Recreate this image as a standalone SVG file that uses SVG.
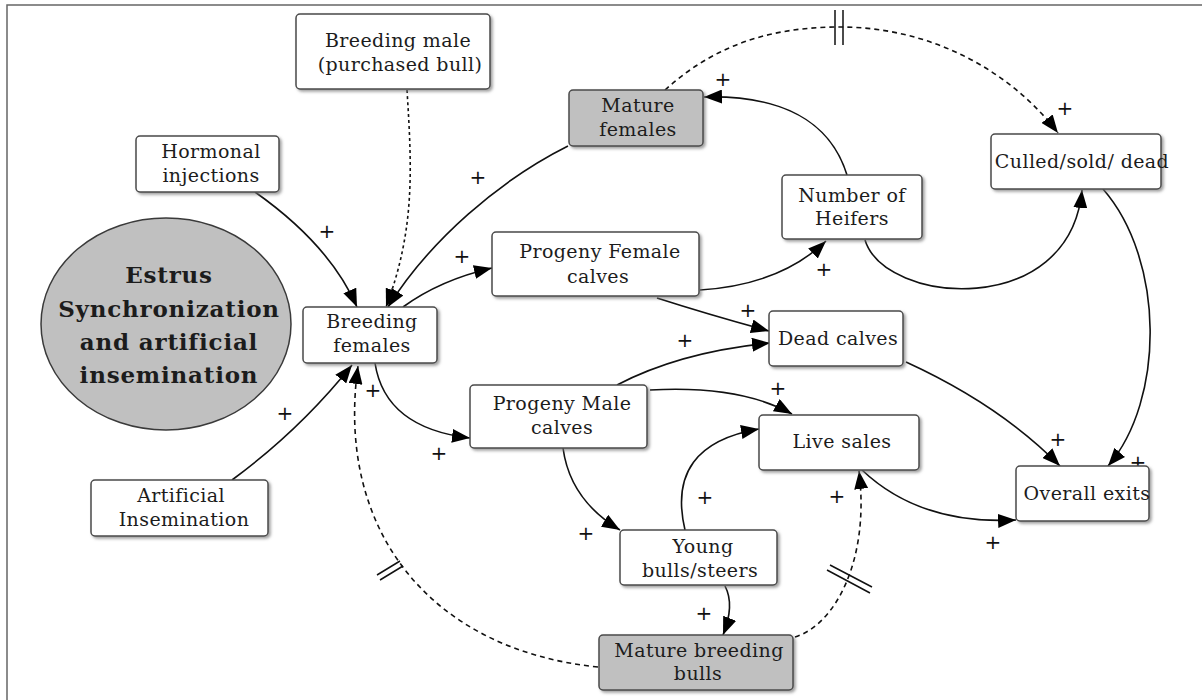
<svg xmlns="http://www.w3.org/2000/svg" width="1202" height="700" viewBox="0 0 1202 700">
  <defs>
    <marker id="arrow" markerUnits="userSpaceOnUse" markerWidth="19" markerHeight="14" refX="18" refY="7" orient="auto">
      <path d="M0,0 L18,7 L0,14 Z" fill="#000"/>
    </marker>
    <filter id="shadow" x="-10%" y="-10%" width="130%" height="140%">
      <feDropShadow dx="2" dy="2" stdDeviation="1.5" flood-color="#777" flood-opacity="0.7"/>
    </filter>
  </defs>
  <style>
    .box { fill: #ffffff; stroke: #4a4a4a; stroke-width: 1.5; filter: url(#shadow); }
    .stock { fill: #c0c0c0; stroke: #4a4a4a; stroke-width: 1.5; filter: url(#shadow); }
    .lbl { font-family: "DejaVu Serif", "Liberation Serif", serif; font-size: 19px; letter-spacing: 0.4px; fill: #1c1c1c; text-anchor: middle; }
    .title { font-family: "DejaVu Serif", "Liberation Serif", serif; font-size: 23px; font-weight: 700; letter-spacing: 0.8px; fill: #1c1c1c; text-anchor: middle; }
    .pol { font-family: "DejaVu Sans", sans-serif; font-size: 20px; fill: #111; text-anchor: middle; }
    .link { fill: none; stroke: #111; stroke-width: 1.6; marker-end: url(#arrow); }
    .delay { fill: none; stroke: #111; stroke-width: 1.6; stroke-dasharray: 5 4; marker-end: url(#arrow); }
    .dot { stroke-dasharray: 3 3; }
    .tick { fill: none; stroke: #111; stroke-width: 1.5; }
  </style>

  <rect width="1202" height="700" fill="#ffffff"/>
  <!-- outer frame -->
  <path d="M7,705 V5 H1210" fill="none" stroke="#666" stroke-width="1.5"/>

  <!-- connectors -->
  <g id="connectors">
    <path class="link" d="M255,192 Q330,245 357,307"/>
    <path class="delay dot" d="M407,90 C412,170 415,230 386,307"/>
    <path class="link" d="M568,146 C500,180 430,240 388,307"/>
    <path class="link" d="M403,307 Q440,280 492,268"/>
    <path class="link" d="M375,363 Q385,428 470,438"/>
    <path class="link" d="M232,480 Q300,430 352,365"/>
    <path class="delay" d="M598,667 C430,650 335,530 358,366"/>
    <path class="link" d="M700,290 Q780,285 826,241"/>
    <path class="link" d="M657,298 Q710,315 769,331"/>
    <path class="link" d="M617,385 Q680,352 770,343"/>
    <path class="link" d="M650,390 Q740,385 792,414"/>
    <path class="link" d="M563,448 Q570,500 620,530"/>
    <path class="link" d="M685,530 Q665,445 759,429"/>
    <path class="link" d="M725,586 Q735,605 723,635"/>
    <path class="delay" d="M795,637 C835,625 870,560 859,471"/>
    <path class="link" d="M862,470 Q920,525 1016,520"/>
    <path class="link" d="M906,362 Q1000,405 1060,466"/>
    <path class="link" d="M1103,189 C1165,260 1165,400 1108,466"/>
    <path class="link" d="M865,240 C885,305 1070,320 1082,190"/>
    <path class="link" d="M847,175 C830,120 780,95 704,97"/>
    <path class="delay" d="M665,90 C720,40 780,27 840,27 C930,27 1010,70 1058,133"/>
    <!-- delay marks -->
    <path class="tick" d="M835,10 V45 M843,10 V45"/>
    <path class="tick" d="M377,575 L400,561 M380,580 L403,566"/>
    <path class="tick" d="M827,570 L870,593 M830,565 L872,587"/>
    <!-- polarity signs -->
    <text class="pol" x="327" y="238">+</text>
    <text class="pol" x="478" y="184">+</text>
    <text class="pol" x="462" y="263">+</text>
    <text class="pol" x="373" y="397">+</text>
    <text class="pol" x="285" y="420">+</text>
    <text class="pol" x="439" y="460">+</text>
    <text class="pol" x="723" y="86">+</text>
    <text class="pol" x="1065" y="115">+</text>
    <text class="pol" x="824" y="276">+</text>
    <text class="pol" x="748" y="317">+</text>
    <text class="pol" x="685" y="347">+</text>
    <text class="pol" x="778" y="395">+</text>
    <text class="pol" x="705" y="504">+</text>
    <text class="pol" x="837" y="503">+</text>
    <text class="pol" x="586" y="540">+</text>
    <text class="pol" x="704" y="620">+</text>
    <text class="pol" x="993" y="549">+</text>
    <text class="pol" x="1058" y="446">+</text>
    <text class="pol" x="1138" y="469">+</text>
  </g>

  <!-- nodes -->
  <g id="estrus-sync">
    <ellipse cx="166" cy="324" rx="125" ry="106" fill="#c0c0c0" stroke="#3a3a3a" stroke-width="1.5"/>
    <text class="title" x="169" y="283">Estrus</text>
    <text class="title" x="169" y="317">Synchronization</text>
    <text class="title" x="169" y="350">and artificial</text>
    <text class="title" x="169" y="383">insemination</text>
  </g>
  <g id="breeding-male">
    <rect class="box" x="296" y="14" width="194" height="75" rx="4"/>
    <text class="lbl" x="398" y="47">Breeding male</text>
    <text class="lbl" x="400" y="71">(purchased bull)</text>
  </g>
  <g id="hormonal-injections">
    <rect class="box" x="136" y="136" width="143" height="56" rx="4"/>
    <text class="lbl" x="211" y="158">Hormonal</text>
    <text class="lbl" x="211" y="182">injections</text>
  </g>
  <g id="artificial-insemination">
    <rect class="box" x="91" y="480" width="177" height="56" rx="4"/>
    <text class="lbl" x="181" y="502">Artificial</text>
    <text class="lbl" x="184" y="526">Insemination</text>
  </g>
  <g id="breeding-females">
    <rect class="box" x="303" y="307" width="134" height="56" rx="4"/>
    <text class="lbl" x="372" y="328">Breeding</text>
    <text class="lbl" x="372" y="352">females</text>
  </g>
  <g id="mature-females">
    <rect class="stock" x="569" y="90" width="134" height="56" rx="4"/>
    <text class="lbl" x="638" y="112">Mature</text>
    <text class="lbl" x="638" y="136">females</text>
  </g>
  <g id="progeny-female-calves">
    <rect class="box" x="492" y="232" width="207" height="64" rx="4"/>
    <text class="lbl" x="600" y="258">Progeny Female</text>
    <text class="lbl" x="598" y="283">calves</text>
  </g>
  <g id="number-of-heifers">
    <rect class="box" x="782" y="175" width="140" height="64" rx="4"/>
    <text class="lbl" x="852" y="202">Number of</text>
    <text class="lbl" x="852" y="225">Heifers</text>
  </g>
  <g id="culled-sold-dead">
    <rect class="box" x="991" y="134" width="170" height="55" rx="4"/>
    <text class="lbl" x="1082" y="168">Culled/sold/ dead</text>
  </g>
  <g id="dead-calves">
    <rect class="box" x="769" y="311" width="134" height="55" rx="4"/>
    <text class="lbl" x="838" y="345">Dead calves</text>
  </g>
  <g id="progeny-male-calves">
    <rect class="box" x="470" y="385" width="177" height="63" rx="4"/>
    <text class="lbl" x="562" y="410">Progeny Male</text>
    <text class="lbl" x="562" y="434">calves</text>
  </g>
  <g id="live-sales">
    <rect class="box" x="759" y="415" width="160" height="55" rx="4"/>
    <text class="lbl" x="842" y="448">Live sales</text>
  </g>
  <g id="overall-exits">
    <rect class="box" x="1016" y="466" width="133" height="55" rx="4"/>
    <text class="lbl" x="1087" y="500">Overall exits</text>
  </g>
  <g id="young-bulls-steers">
    <rect class="box" x="620" y="530" width="157" height="55" rx="4"/>
    <text class="lbl" x="703" y="553">Young</text>
    <text class="lbl" x="700" y="577">bulls/steers</text>
  </g>
  <g id="mature-breeding-bulls">
    <rect class="stock" x="599" y="635" width="194" height="55" rx="4"/>
    <text class="lbl" x="699" y="657">Mature breeding</text>
    <text class="lbl" x="698" y="680">bulls</text>
  </g>
</svg>
